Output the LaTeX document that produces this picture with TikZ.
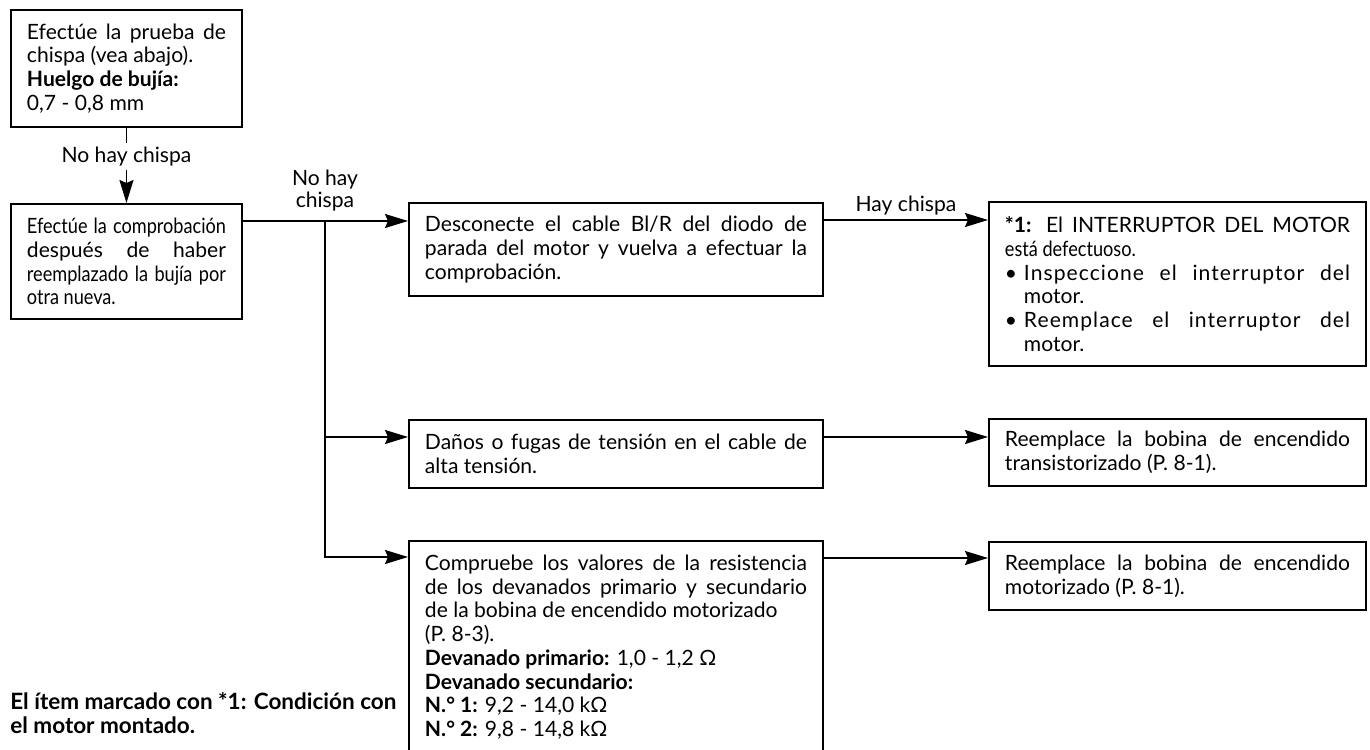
\documentclass[tikz,border=0pt]{standalone}
\usepackage{fontspec}
\setmainfont{Lato}
\newfontfamily\condfont{Lato}[FakeStretch=0.86]
\newfontfamily\spacedfont{Lato}[LetterSpace=5]
\usepackage{tikz}
\usetikzlibrary{arrows.meta, positioning, calc}
\setlength{\parindent}{0pt}
\hyphenpenalty=10000
\exhyphenpenalty=10000
\emergencystretch=2em
\tikzset{
	process/.style   ={rectangle, anchor=north west, draw=black, line width=1.1pt, inner xsep=0.32cm, inner ysep=0.1cm, align=justify, font=\fontsize{12}{13.5}\selectfont},
	narrowbox/.style ={process, text width=3.98cm},
	widebox/.style   ={process, text width=7.64cm},
	remedybox/.style ={process, text width=6.9cm},
	flowarrow/.style ={-{Stealth[length=0.46cm, width=0.28cm, inset=0.06cm]}, line width=1.1pt},
	lbl/.style       ={font=\fontsize{12}{12.5}\selectfont, align=center, inner sep=0.08cm},
}
\newcommand{\bulletitem}{\hangindent=0.38cm\hangafter=1\makebox[0.38cm][l]{•}}

\begin{document}
\begin{tikzpicture}
	\useasboundingbox (0,0) rectangle (27.4,-14.98);
	% left column
	\node[narrowbox, minimum height=2.34cm] (spark) at (0.2,-0.18) {Efectúe la prueba de\linebreak chispa (vea abajo).\newline \textbf{Huelgo de bujía:}\newline 0,7 - 0,8 mm};
	\node[narrowbox, minimum height=2.3cm] (plug) at (0.2,-4.06) {{\condfont Efectúe la comprobación}\linebreak después de haber\linebreak {\condfont reemplazado la bujía por}\linebreak {\condfont otra nueva.}};
	% middle column
	\node[widebox, minimum height=1.86cm] (diode) at (8.16,-4.04) {Desconecte el cable Bl/R del diodo de\linebreak parada del motor y vuelva a efectuar la\linebreak comprobación.};
	\node[widebox, minimum height=1.36cm] (cable) at (8.16,-8.38) {Daños o fugas de tensión en el cable de\linebreak alta tensión.};
	\node[widebox, inner ysep=0.28cm] (coil) at (8.16,-10.8) {Compruebe los valores de la resistencia\linebreak de los devanados primario y secundario\linebreak de la bobina de encendido motorizado\newline (P. 8-3).\newline \textbf{Devanado primario:} 1,0 - 1,2 Ω\newline \textbf{Devanado secundario:}\newline \textbf{N.° 1:} 9,2 - 14,0 kΩ\newline \textbf{N.° 2:} 9,8 - 14,8 kΩ};
	% right column
	\node[remedybox, minimum height=3.28cm] (switch) at (19.76,-4.02) {\textbf{*1:} El INTERRUPTOR DEL MOTOR\linebreak {\condfont está defectuoso.}\par
		\bulletitem{\spacedfont Inspeccione el interruptor del}\linebreak motor.\par
		\bulletitem{\spacedfont Reemplace el interruptor del}\linebreak motor.\par};
	\node[remedybox, minimum height=1.34cm] (trans) at (19.76,-8.36) {Reemplace la bobina de encendido\linebreak transistorizado (P. 8-1).};
	\node[remedybox, minimum height=1.36cm] (motor) at (19.76,-10.82) {Reemplace la bobina de encendido\linebreak motorizado (P. 8-1).};
	% note
	\node[anchor=north west, align=left, inner sep=0pt, font=\bfseries\fontsize{12.8}{13.5}\selectfont] (note) at (0.2,-13.84) {El ítem marcado con *1: Condición con\\el motor montado.};
	% connectors
	\coordinate (in3) at ([yshift=-0.38cm]diode.north west);
	\coordinate (in4) at ([yshift=-0.38cm]switch.north west);
	\coordinate (in5) at ([yshift=-0.36cm]cable.north west);
	\coordinate (in6) at ([yshift=-0.38cm]trans.north west);
	\coordinate (in7) at ([yshift=-0.34cm]coil.north west);
	\coordinate (in8) at ([yshift=-0.34cm]motor.north west);
	\coordinate (split) at (6.5,-4.42);
	\draw[flowarrow] (spark) -- node[lbl, pos=0.38, fill=white] {No hay chispa} (plug);
	\draw[flowarrow] (plug.east |- in3) -- (in3);
	\draw[flowarrow] (split) |- (in5);
	\draw[flowarrow] (split) |- (in7);
	\node[lbl] (nospark) at (6.5,-3.82) {No hay\\chispa};
	\draw[flowarrow] (diode.east |- in4) -- node[lbl, above] {Hay chispa} (in4);
	\draw[flowarrow] (cable.east |- in6) -- (in6);
	\draw[flowarrow] (coil.east |- in8) -- (in8);
\end{tikzpicture}
\end{document}
